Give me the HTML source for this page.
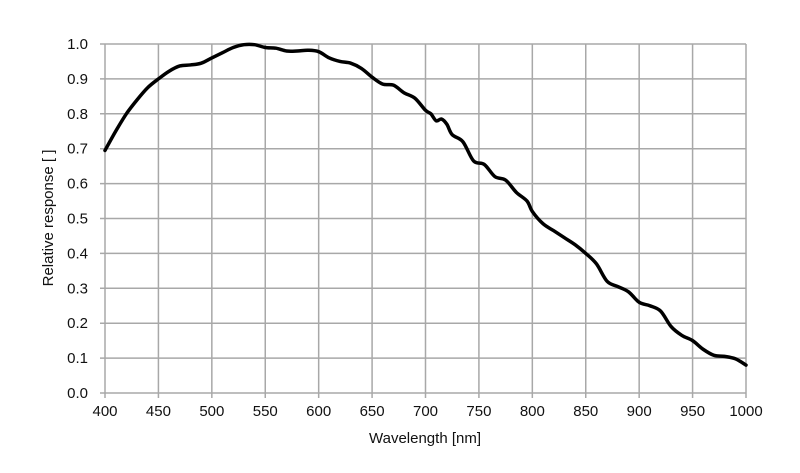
<!DOCTYPE html>
<html><head><meta charset="utf-8"><style>
body{margin:0;background:#fff;}
svg{display:block;font-family:"Liberation Sans",sans-serif;}
</style></head><body>
<svg id="chart" width="800" height="473" viewBox="0 0 800 473" xmlns="http://www.w3.org/2000/svg">
<g id="grid"></g>
<g id="axes"></g>
<path id="curve" fill="none" stroke="#000" stroke-width="3.5" stroke-linejoin="round" stroke-linecap="round"/>
<text x="425" y="443" font-size="15" text-anchor="middle" fill="#111">Wavelength [nm]</text>
<text x="0" y="0" font-size="15" text-anchor="middle" fill="#111" transform="translate(53,218) rotate(-90)">Relative response [ ]</text>
</svg>
<script>
const wavelengths=[400,410,420,430,440,450,460,470,480,490,500,510,520,530,540,550,560,570,580,590,600,610,620,630,640,650,660,670,680,690,700,705,710,715,720,725,735,745,755,765,775,785,795,800,810,820,830,840,850,860,870,880,890,900,910,920,930,940,950,960,970,980,990,1000];
const responses=[0.695,0.75,0.80,0.84,0.875,0.90,0.922,0.937,0.94,0.945,0.96,0.975,0.99,0.998,0.998,0.99,0.988,0.98,0.98,0.982,0.978,0.96,0.95,0.945,0.93,0.905,0.885,0.882,0.86,0.845,0.81,0.80,0.78,0.785,0.77,0.74,0.72,0.665,0.655,0.62,0.61,0.575,0.55,0.52,0.485,0.465,0.445,0.425,0.40,0.37,0.32,0.305,0.29,0.26,0.25,0.235,0.19,0.165,0.15,0.125,0.108,0.105,0.098,0.08];
const xTicks=[400,450,500,550,600,650,700,750,800,850,900,950,1000];
const yTicks=[0,0.1,0.2,0.3,0.4,0.5,0.6,0.7,0.8,0.9,1.0];
const X0=105,X1=746,Y0=393,Y1=44;
const sx=v=>X0+(v-400)/600*(X1-X0);
const sy=v=>Y0-v*(Y0-Y1);
const NS="http://www.w3.org/2000/svg";
const grid=document.getElementById('grid'),axes=document.getElementById('axes');
function mk(tag,attrs,parent){const e=document.createElementNS(NS,tag);for(const k in attrs)e.setAttribute(k,attrs[k]);parent.appendChild(e);return e;}
xTicks.forEach(t=>{
  const l=mk('line',{x1:sx(t),x2:sx(t),y1:Y1,y2:Y0+5,stroke:'#a8a8a8','stroke-width':1.5},grid);
  
  
  const tx=mk('text',{x:sx(t),y:Y0+23,'font-size':15,'text-anchor':'middle',fill:'#111'},axes);
  tx.textContent=t;
  
  
});
yTicks.forEach(t=>{
  const l=mk('line',{x1:X0-5,x2:X1,y1:sy(t),y2:sy(t),stroke:'#a8a8a8','stroke-width':1.5},grid);
  
  
  const tx=mk('text',{x:X0-17,y:sy(t)+5,'font-size':15,'text-anchor':'end',fill:'#111'},axes);
  tx.textContent=t.toFixed(1);
  
  
});
const pts=wavelengths.map((w,i)=>[sx(w),sy(responses[i])]);
let d='M'+pts[0][0]+','+pts[0][1];
for(let i=0;i<pts.length-1;i++){
  const p0=pts[i-1]||pts[i],p1=pts[i],p2=pts[i+1],p3=pts[i+2]||p2;
  const c1=[p1[0]+(p2[0]-p0[0])/6,p1[1]+(p2[1]-p0[1])/6];
  const c2=[p2[0]-(p3[0]-p1[0])/6,p2[1]-(p3[1]-p1[1])/6];
  d+=` C${c1[0]},${c1[1]} ${c2[0]},${c2[1]} ${p2[0]},${p2[1]}`;
}
document.getElementById('curve').setAttribute('d',d);
</script>
</body></html>
